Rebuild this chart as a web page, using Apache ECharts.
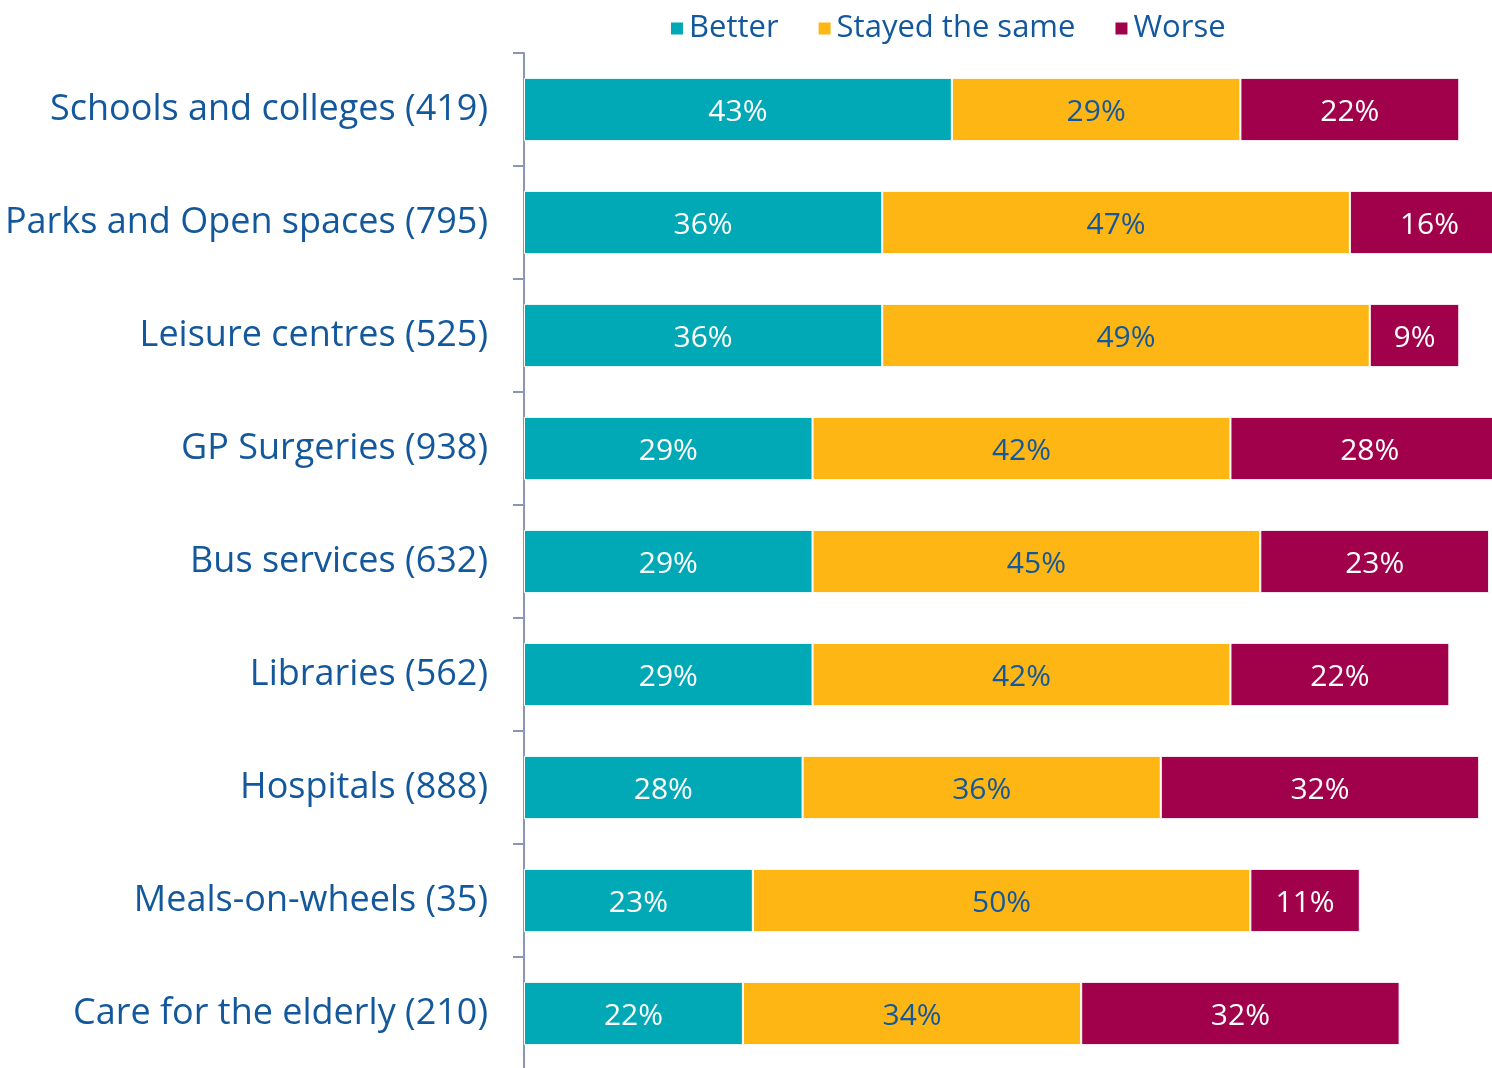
<!DOCTYPE html>
<html lang="en">
<head>
    <meta charset="UTF-8">
    <title>Services</title>
    <script src="https://cdn.jsdelivr.net/npm/echarts@6/dist/echarts.min.js"></script>
    <style>
        html, body { margin: 0; padding: 0; background: #fff; }
    </style>
</head>
<body>
    <div id="main" style="width: 1492px;height:1068px;"></div>
    <script>
        // chart data
        var categories = [
            'Schools and colleges (419)',
            'Parks and Open spaces (795)',
            'Leisure centres (525)',
            'GP Surgeries (938)',
            'Bus services (632)',
            'Libraries (562)',
            'Hospitals (888)',
            'Meals-on-wheels (35)',
            'Care for the elderly (210)'
        ];
        var seriesNames = ['Better', 'Stayed the same', 'Worse'];
        var better = [43, 36, 36, 29, 29, 29, 28, 23, 22];
        var same = [29, 47, 49, 42, 45, 42, 36, 50, 34];
        var worse = [22, 16, 9, 28, 23, 22, 32, 11, 32];

        var colors = ['#00A9B5', '#FDB614', '#A1004B'];
        var labelColors = ['#ffffff', '#13589C', '#ffffff'];
        var fontName = 'Open Sans';

        var values = [better, same, worse];
        var series = seriesNames.map(function (name, i) {
            return {
                name: name,
                type: 'bar',
                stack: 'all',
                barWidth: '56%',
                data: values[i],
                itemStyle: { color: colors[i], borderColor: '#fff', borderWidth: 1 },
                label: {
                    show: true,
                    position: 'inside',
                    formatter: '{c}%',
                    color: labelColors[i],
                    fontFamily: fontName,
                    fontSize: 30,
                    fontWeight: 'normal',
                    offset: [0, 3]
                }
            };
        });

        var myChart = echarts.init(document.getElementById('main'));
        myChart.setOption({
            animation: false,
            legend: {
                data: seriesNames,
                left: 664,
                top: 8,
                icon: 'rect',
                itemWidth: 14,
                itemHeight: 14,
                itemGap: 38,
                textStyle: { color: '#13589C', fontFamily: fontName, fontSize: 31 }
            },
            grid: { left: 524, top: 53, width: 995, height: 1017, containLabel: false, outerBoundsMode: 'none' },
            xAxis: {
                type: 'value',
                min: 0,
                max: 100,
                show: false
            },
            yAxis: {
                type: 'category',
                inverse: true,
                data: categories,
                axisLine: { lineStyle: { color: '#8A96B4', width: 2 } },
                axisTick: { show: true, length: 11, lineStyle: { color: '#8A96B4', width: 2 } },
                axisLabel: {
                    color: '#13589C',
                    fontFamily: fontName,
                    fontSize: 36,
                    margin: 36,
                    padding: [10, 0, 0, 0]
                }
            },
            series: series
        });
    </script>
</body>
</html>
